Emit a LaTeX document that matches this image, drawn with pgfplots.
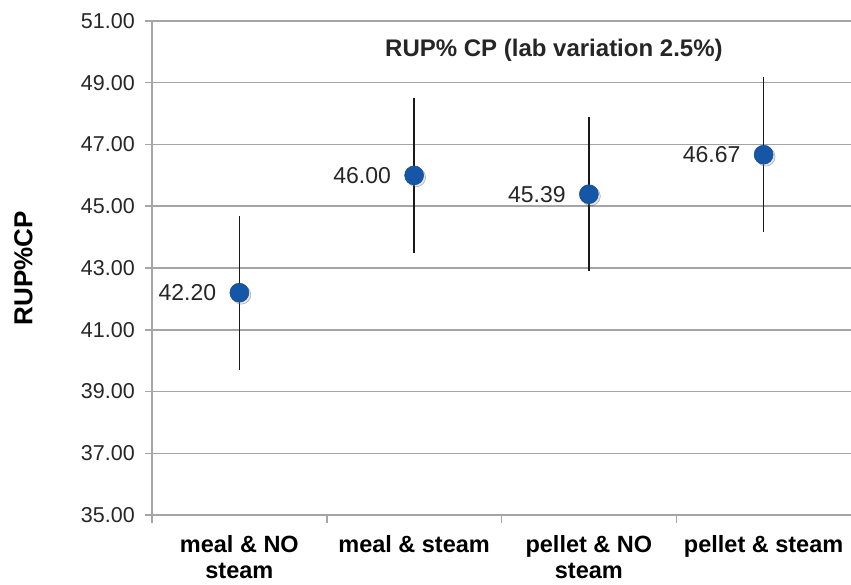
\documentclass[border=0pt]{standalone}
\usepackage{fontspec}
\setmainfont{Liberation Sans}
\usepackage{pgfplots}
\pgfplotsset{compat=1.18}
\definecolor{gridgray}{RGB}{165,165,165}
\definecolor{ptblue}{RGB}{22,86,166}
\definecolor{txt}{RGB}{38,38,38}
\begin{document}
\begin{tikzpicture}
\begin{axis}[
  width=699pt, height=494pt, scale only axis,
  xmin=0, xmax=4, ymin=35, ymax=51,
  ytick={35,37,...,51},
  xtick={0.5,1.5,2.5,3.5},
  xticklabels={{meal \& NO\\steam}, {meal \& steam}, {pellet \& NO\\steam}, {pellet \& steam}},
  minor xtick={0,1,2,3},
  axis x line*=bottom, axis y line*=left,
  axis line style={gridgray, line width=1.5pt, -},
  ymajorgrids, grid style={gridgray, line width=1.5pt},
  tick align=outside,
  major tick length=7pt,
  minor tick length=8pt,
  xtick style={draw=none},
  minor x tick style={draw=gridgray, line width=1.5pt},
  ytick style={gridgray, line width=1.5pt},
  /pgf/number format/fixed, /pgf/number format/fixed zerofill, /pgf/number format/precision=2, /pgf/number format/assume math mode=true,
  yticklabel style={font=\fontsize{21.5}{24}\selectfont, text=txt, anchor=east, inner sep=0pt, xshift=-10pt},
  xticklabel style={font=\bfseries\fontsize{23.5}{26}\selectfont, text=black, align=center, anchor=north, inner sep=0pt, yshift=-13pt},
  every axis y label/.style={at={(axis description cs:-0.184,0.5)}, rotate=90, anchor=center},
  ylabel={RUP\%CP},
  ylabel style={font=\bfseries\fontsize{26}{30}\selectfont, text=black},
  clip=false,
]
\coordinate (O) at (rel axis cs:0,0);
\addplot[only marks, mark=*, mark size=9.5pt, mark options={fill=black!30, draw=none, opacity=0.35, xshift=2pt, yshift=-2pt}]
  coordinates {(0.5,42.20) (1.5,46.00) (2.5,45.39) (3.5,46.67)};
\addplot[only marks, mark=*, mark size=9.5pt, mark options={fill=ptblue, draw=ptblue!85!black, line width=0.5pt},
  error bars/.cd, y dir=both, y explicit, error bar style={black!90, line width=1.4pt}, error mark=none]
  coordinates {(0.5,42.20) +- (0,2.5) (1.5,46.00) +- (0,2.5) (2.5,45.39) +- (0,2.5) (3.5,46.67) +- (0,2.5)};
\addplot[only marks, mark=none, nodes near coords, point meta=explicit symbolic,
  every node near coord/.append style={anchor=east, inner sep=0pt, xshift=-23pt, yshift=0pt, font=\fontsize{23}{26}\selectfont, text=txt}]
  coordinates {(0.5,42.20) [42.20] (1.5,46.00) [46.00] (2.5,45.39) [45.39] (3.5,46.67) [46.67]};
\node[font=\bfseries\fontsize{24}{28}\selectfont, text=txt] at (axis cs:2.3,50.06) {RUP\% CP (lab variation 2.5\%)};
\end{axis}
\pgfresetboundingbox
\path (O) ++(-152pt,-69pt) rectangle ++(851pt,584pt);
\end{tikzpicture}
\end{document}
